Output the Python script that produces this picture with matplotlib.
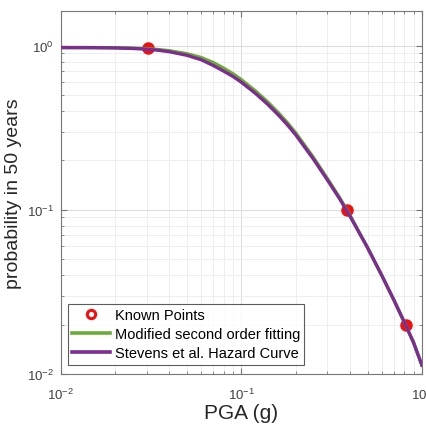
import matplotlib.pyplot as plt
from matplotlib.lines import Line2D

plt.rcParams['font.family'] = ['Liberation Sans', 'DejaVu Sans']
plt.rcParams['mathtext.fontset'] = 'custom'
plt.rcParams['mathtext.rm'] = 'Liberation Sans'

# values
known_pga = [0.0303, 0.384, 0.815]
known_prob = [0.965, 0.100, 0.0198]

curve_pga = [0.010, 0.015, 0.020, 0.025, 0.030, 0.035, 0.040, 0.050, 0.060,
             0.070, 0.080, 0.090, 0.100, 0.120, 0.140, 0.160, 0.180, 0.200,
             0.250, 0.300, 0.350, 0.400, 0.500, 0.600, 0.700, 0.800, 0.900, 1.000]
fit_prob = [0.975, 0.975, 0.973, 0.968, 0.960, 0.948, 0.933, 0.895, 0.848,
            0.790, 0.730, 0.675, 0.622, 0.530, 0.455, 0.392, 0.340, 0.295,
            0.210, 0.155, 0.119, 0.0925, 0.0590, 0.0398, 0.0282, 0.0206, 0.0155, 0.0113]
stevens_prob = [0.975, 0.974, 0.970, 0.963, 0.953, 0.938, 0.920, 0.875, 0.822,
                0.758, 0.700, 0.650, 0.600, 0.512, 0.440, 0.380, 0.330, 0.287,
                0.205, 0.152, 0.117, 0.0915, 0.0588, 0.0398, 0.0282, 0.0206, 0.0155, 0.0113]

green = '#6aab37'
purple = '#7b2d90'
tick_color = '#404040'

fig = plt.figure(figsize=(4.27, 4.27), dpi=100)
ax = fig.add_axes([0.142, 0.122, 0.846, 0.850])

ax.plot(known_pga, known_prob, 'o', color='#ee1111', markersize=8, zorder=3)
ax.plot(curve_pga, fit_prob, color=green, linewidth=2.4, zorder=4)
ax.plot(curve_pga, stevens_prob, color=purple, linewidth=2.4, zorder=5)

ax.set_xscale('log')
ax.set_yscale('log')
ax.set_xlim(0.01, 1)
ax.set_ylim(0.01, 1.63)
ax.set_xticks([0.01, 0.1, 1])
ax.set_yticks([0.01, 0.1, 1])
ax.grid(True, which='major', color='#dddddd', linewidth=0.8)
ax.grid(True, which='minor', color='#eeeeee', linewidth=0.7)
ax.set_axisbelow(True)
ax.tick_params(which='both', direction='in', top=True, right=True,
               colors='#777777', labelcolor=tick_color, labelsize=9.5)
ax.tick_params(which='major', length=4)
ax.tick_params(which='minor', length=2)
ax.tick_params(axis='x', pad=9)
ax.tick_params(axis='y', pad=5)
for s in ax.spines.values():
    s.set_color('#777777')
    s.set_linewidth(0.8)

ax.set_xlabel('PGA (g)', fontsize=15, color='#262626', labelpad=1)
ax.set_ylabel('probability in 50 years', fontsize=14, color='#262626', labelpad=3)

handles = [
    Line2D([], [], linestyle='none', marker='o', markersize=6,
           markerfacecolor='white', markeredgecolor='#ee1111', markeredgewidth=2.2),
    Line2D([], [], color=green, linewidth=2.6),
    Line2D([], [], color=purple, linewidth=2.6),
]
labels = ['Known Points', 'Modified second order fitting', 'Stevens et al. Hazard Curve']
leg = ax.legend(handles, labels, loc='lower left', bbox_to_anchor=(0.02, 0.025),
                fontsize=10.5, frameon=True, fancybox=False, borderpad=0.3,
                labelspacing=0.35, handlelength=2.6, handletextpad=0.3,
                borderaxespad=0)
leg.get_frame().set_edgecolor('#333333')
leg.get_frame().set_linewidth(0.8)

fig.savefig('out.png', dpi=100)
